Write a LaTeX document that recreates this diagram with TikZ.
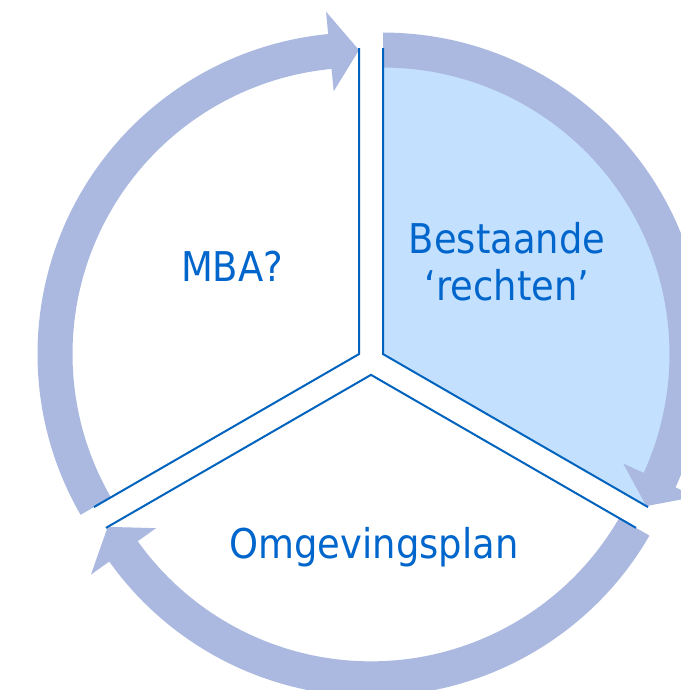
\documentclass[tikz,border=0pt]{standalone}
\usepackage{fontspec}
\setmainfont{DejaVu Sans}[FakeStretch=0.9]
\usetikzlibrary{calc}

\definecolor{ringblue}{RGB}{171,185,225}
\definecolor{sectorblue}{RGB}{196,224,255}
\definecolor{lineblue}{RGB}{0,99,190}
\definecolor{textblue}{RGB}{0,102,204}

% curved arrow of the ring: vertex, start angle, end angle (clockwise)
\newcommand{\cyclearrow}[3]{%
	\fill[ring] ($(#1)+(#2:321.5)$) arc[start angle=#2, end angle=#3+5.5, radius=321.5]
		-- ($(#1)+(#3+5.5:344)$) -- ($(#1)+(#3:304)$) -- ($(#1)+(#3+5.5:264)$)
		-- ($(#1)+(#3+5.5:286.5)$) arc[start angle=#3+5.5, end angle=#2, radius=286.5] -- cycle;}

\begin{document}
\begin{tikzpicture}[
			x = 1pt, y = 1pt,
			ring/.style = {fill = ringblue},
			edge/.style = {draw = lineblue, line width = 2pt, line join = miter},
			every node/.style = {text = textblue, align = center,
				font = \fontsize{41}{47}\selectfont}]
			\useasboundingbox (-371,-329) rectangle (309,361);

			% Sectors
			\coordinate (vright) at (12,6.93);
			\coordinate (vleft) at (-12,6.93);
			\coordinate (vbottom) at (0,-13.86);
			\fill[sectorblue] (vright) -- ++(90:306) arc[start angle=90, end angle=-30, radius=306] -- cycle;

			% Ring
			\cyclearrow{vleft}{210}{90}
			\cyclearrow{vright}{90}{-30}
			\cyclearrow{vbottom}{-30}{-150}

			\draw[edge] ($(vleft)+(90:306)$) -- (vleft) -- ($(vleft)+(210:306)$);
			\draw[edge] ($(vright)+(90:306)$) -- (vright) -- ($(vright)+(-30:306)$);
			\draw[edge] ($(vbottom)+(-30:306)$) -- (vbottom) -- ($(vbottom)+(210:306)$);

			% Labels
			\node[anchor = base] (mba) at (-139,79) {MBA?};
			\node (rechten) at (136,99) {Bestaande\\‘rechten’};
			\node[anchor = base] (plan) at (3,-197) {Omgevingsplan};
		\end{tikzpicture}
\end{document}
